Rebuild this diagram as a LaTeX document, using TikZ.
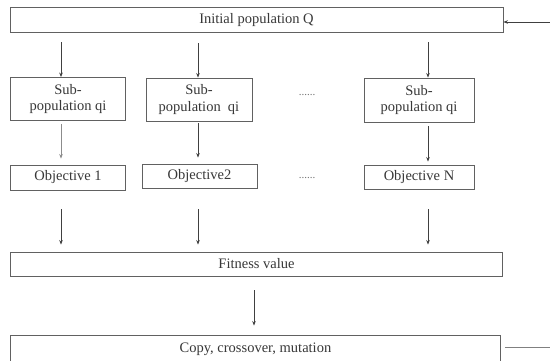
\documentclass[tikz,border=0pt]{standalone}
\usepackage{fontspec}
\setmainfont{Liberation Serif}
\usetikzlibrary{arrows.meta}
\begin{document}
\begin{tikzpicture}[x=1pt,y=-1pt,
  box/.style={draw=black!62, line width=0.9pt, inner sep=0pt, align=center,
    text=black!78, font=\fontsize{14.5}{16.5}\selectfont},
  arr/.style={draw=black!75, line width=0.8pt, -{Stealth[length=4.5pt,width=3.6pt]}},
  plainline/.style={draw=black!50, line width=0.8pt},
  dots/.style={text=black!55, font=\fontsize{11}{11}\selectfont, inner sep=0pt}]
\useasboundingbox (0,0) rectangle (550,361);
\fill[white] (0,0) rectangle (550,361);

% boxes
\node[box, minimum width=493pt, minimum height=25pt] (init) at (256.5,20) {Initial population Q};
\node[box, minimum width=115pt, minimum height=43pt] (sub1) at (68,99) {Sub-\\population qi};
\node[box, minimum width=106pt, minimum height=43pt] (sub2) at (199,99.5) {Sub-\\population~ qi};
\node[box, minimum width=110pt, minimum height=44pt] (sub3) at (419,100) {Sub-\\population qi};
\node[box, minimum width=115pt, minimum height=25pt] (obj1) at (68,177.5) {Objective 1};
\node[box, minimum width=115pt, minimum height=24pt] (obj2) at (199.5,176) {Objective2};
\node[box, minimum width=110pt, minimum height=24pt] (objN) at (419,177) {Objective N};
\node[box, minimum width=492pt, minimum height=24pt] (fit) at (256.5,264) {Fitness value};
\node[box, minimum width=490pt, minimum height=28pt] (copy) at (255.5,349) {Copy, crossover, mutation};

% ellipses between columns
\node[dots] (d1) at (307,95) {......};
\node[dots] (d2) at (307,178) {......};

% column positions of the vertical arrows
\coordinate (c1) at (61,0);
\coordinate (c2) at (198,0);
\coordinate (c3) at (428,0);
\coordinate (c4) at (254,0);

% initial population -> sub-populations
\draw[arr, shorten <=9.5pt] (init.south -| c1) -- (sub1.north -| c1);
\draw[arr, shorten <=10.5pt] (init.south -| c2) -- (sub2.north -| c2);
\draw[arr, shorten <=9.5pt] (init.south -| c3) -- (sub3.north -| c3);

% sub-populations -> objectives
\draw[arr, draw=black!45, shorten <=3pt, shorten >=6pt] (sub1.south -| c1) -- (obj1.north -| c1);
\draw[arr, shorten <=2pt, shorten >=6pt] (sub2.south -| c2) -- (obj2.north -| c2);
\draw[arr, shorten <=4pt, shorten >=3pt] (sub3.south -| c3) -- (objN.north -| c3);

% objectives -> fitness value
\draw[arr, shorten <=19pt, shorten >=7pt] (obj1.south -| c1) -- (fit.north -| c1);
\draw[arr, shorten <=21pt, shorten >=7pt] (obj2.south -| c2) -- (fit.north -| c2);
\draw[arr, shorten <=20pt, shorten >=7pt] (objN.south -| c3) -- (fit.north -| c3);

% fitness value -> genetic operators
\draw[arr, shorten <=14pt, shorten >=9pt] (fit.south -| c4) -- (copy.north -| c4);

% loop back into the initial population
\coordinate (inR) at (550,22);
\draw[arr] (inR) -- (init.east |- inR);
\coordinate (outR) at (550,347);
\draw[plainline, shorten <=4pt] (copy.east |- outR) -- (outR);
\end{tikzpicture}
\end{document}
